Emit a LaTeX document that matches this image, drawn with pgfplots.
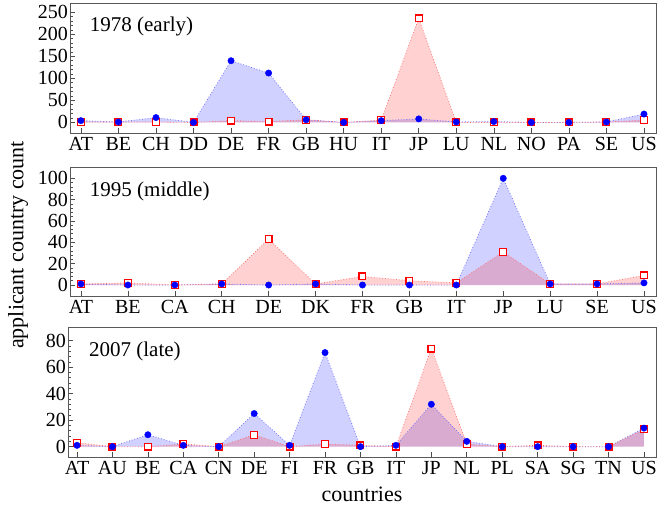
\documentclass[border=0pt]{standalone}
\usepackage{fontspec}
\setmainfont{Liberation Serif}
\newfontfamily\tickfont{Liberation Serif}
\usepackage{pgfplots}
\pgfplotsset{compat=1.18}

\pgfplotsset{
  panel/.style={
    scale only axis, width=586bp, height=130bp,
    axis line style={black!65, line width=0.7bp},
    tick pos=left, tick align=inside,
    major tick length=5bp, minor tick length=3bp,
    every tick/.style={black!70, line width=0.6bp},
    tick label style={font=\tickfont\fontsize{20bp}{22bp}\selectfont},
    /pgf/number format/assume math mode=true,
    yticklabel style={inner xsep=2bp},
    xticklabel style={inner ysep=4bp},
    minor y tick num=4,
  },
  bfill/.style={draw=none, fill=blue, fill opacity=0.18, mark=none},
  rfill/.style={draw=none, fill=red, fill opacity=0.18, mark=none},
  bline/.style={blue!55, dotted, line width=0.8bp, mark=none},
  rline/.style={red!55, dotted, line width=0.8bp, mark=none},
  bmark/.style={only marks, mark=*, mark size=3.2bp, mark options={fill=blue, draw=blue, solid}},
  rmark/.style={only marks, mark=square*, mark size=3.4bp, mark options={fill=white, draw=red, line width=1.2bp, solid}},
}
\tikzset{ptitle/.style={anchor=west, font=\tickfont\fontsize{21bp}{24bp}\selectfont}}

\begin{document}
\begin{tikzpicture}
\path[use as bounding box] (0,0) rectangle (661bp,508bp);

% ---------- 1978 ----------
\begin{axis}[panel, at={(70bp,375bp)}, anchor=south west,
  xmin=-0.29, xmax=15.32, ymin=-24, ymax=271,
  ytick={0,50,100,150,200,250},
  xtick={0,...,15},
  xticklabels={AT,BE,CH,DD,DE,FR,GB,HU,IT,JP,LU,NL,NO,PA,SE,US}]
\addplot[bfill] coordinates {(0,4)(1,1)(2,11)(3,0)(4,140)(5,112)(6,6)(7,0)(8,4)(9,8)(10,1)(11,2)(12,0)(13,0)(14,1)(15,19)} \closedcycle;
\addplot[rfill] coordinates {(0,1)(1,1)(2,1)(3,0)(4,4)(5,2)(6,6)(7,0)(8,5)(9,236)(10,0)(11,0)(12,0)(13,0)(14,1)(15,5)} \closedcycle;
\addplot[bline] coordinates {(0,4)(1,1)(2,11)(3,0)(4,140)(5,112)(6,6)(7,0)(8,4)(9,8)(10,1)(11,2)(12,0)(13,0)(14,1)(15,19)};
\addplot[rline] coordinates {(0,1)(1,1)(2,1)(3,0)(4,4)(5,2)(6,6)(7,0)(8,5)(9,236)(10,0)(11,0)(12,0)(13,0)(14,1)(15,5)};
\addplot[rmark] coordinates {(0,1)(1,1)(2,1)(3,0)(4,4)(5,2)(6,6)(7,0)(8,5)(9,236)(10,0)(11,0)(12,0)(13,0)(14,1)(15,5)};
\addplot[bmark] coordinates {(0,4)(1,1)(2,11)(3,0)(4,140)(5,112)(6,6)(7,0)(8,4)(9,8)(10,1)(11,2)(12,0)(13,0)(14,1)(15,19)};
\node[ptitle] at (rel axis cs:0.028,0.82) {1978 (early)};
\end{axis}

% ---------- 1995 ----------
\begin{axis}[panel, at={(70bp,212bp)}, anchor=south west, height=129bp,
  xmin=-0.234, xmax=12.256, ymin=-10.3, ymax=110.6,
  ytick={0,20,40,60,80,100},
  xtick={0,...,12},
  xticklabels={AT,BE,CA,CH,DE,DK,FR,GB,IT,JP,LU,SE,US}]
\addplot[bfill] coordinates {(0,1)(1,0)(2,0)(3,1)(4,0)(5,1)(6,0)(7,0)(8,0)(9,100)(10,1)(11,1)(12,2)} \closedcycle;
\addplot[rfill] coordinates {(0,1)(1,2)(2,0)(3,1)(4,43)(5,1)(6,8)(7,4)(8,2)(9,31)(10,1)(11,1)(12,9)} \closedcycle;
\addplot[bline] coordinates {(0,1)(1,0)(2,0)(3,1)(4,0)(5,1)(6,0)(7,0)(8,0)(9,100)(10,1)(11,1)(12,2)};
\addplot[rline] coordinates {(0,1)(1,2)(2,0)(3,1)(4,43)(5,1)(6,8)(7,4)(8,2)(9,31)(10,1)(11,1)(12,9)};
\addplot[rmark] coordinates {(0,1)(1,2)(2,0)(3,1)(4,43)(5,1)(6,8)(7,4)(8,2)(9,31)(10,1)(11,1)(12,9)};
\addplot[bmark] coordinates {(0,1)(1,0)(2,0)(3,1)(4,0)(5,1)(6,0)(7,0)(8,0)(9,100)(10,1)(11,1)(12,2)};
\node[ptitle] at (rel axis cs:0.028,0.81) {1995 (middle)};
\end{axis}

% ---------- 2007 ----------
\begin{axis}[panel, at={(68bp,51bp)}, anchor=south west, width=588bp,
  xmin=-0.254, xmax=16.34, ymin=-7.8, ymax=90.3,
  ytick={0,20,40,60,80},
  xtick={0,...,16},
  xticklabels={AT,AU,BE,CA,CN,DE,FI,FR,GB,IT,JP,NL,PL,SA,SG,TN,US}]
\addplot[bfill] coordinates {(0,1)(1,0)(2,9)(3,1)(4,0)(5,25)(6,1)(7,71)(8,0)(9,1)(10,32)(11,4)(12,0)(13,0)(14,0)(15,0)(16,14)} \closedcycle;
\addplot[rfill] coordinates {(0,3)(1,0)(2,0)(3,2)(4,0)(5,9)(6,0)(7,2)(8,1)(9,0)(10,74)(11,2)(12,0)(13,1)(14,0)(15,0)(16,13)} \closedcycle;
\addplot[bline] coordinates {(0,1)(1,0)(2,9)(3,1)(4,0)(5,25)(6,1)(7,71)(8,0)(9,1)(10,32)(11,4)(12,0)(13,0)(14,0)(15,0)(16,14)};
\addplot[rline] coordinates {(0,3)(1,0)(2,0)(3,2)(4,0)(5,9)(6,0)(7,2)(8,1)(9,0)(10,74)(11,2)(12,0)(13,1)(14,0)(15,0)(16,13)};
\addplot[rmark] coordinates {(0,3)(1,0)(2,0)(3,2)(4,0)(5,9)(6,0)(7,2)(8,1)(9,0)(10,74)(11,2)(12,0)(13,1)(14,0)(15,0)(16,13)};
\addplot[bmark] coordinates {(0,1)(1,0)(2,9)(3,1)(4,0)(5,25)(6,1)(7,71)(8,0)(9,1)(10,32)(11,4)(12,0)(13,0)(14,0)(15,0)(16,14)};
\node[ptitle] at (rel axis cs:0.03,0.81) {2007 (late)};
\end{axis}

\node[rotate=90, font=\tickfont\fontsize{22bp}{24bp}\selectfont] at (18bp,263bp) {applicant country count};
\node[font=\tickfont\fontsize{22bp}{24bp}\selectfont] at (362bp,14bp) {countries};
\end{tikzpicture}
\end{document}
